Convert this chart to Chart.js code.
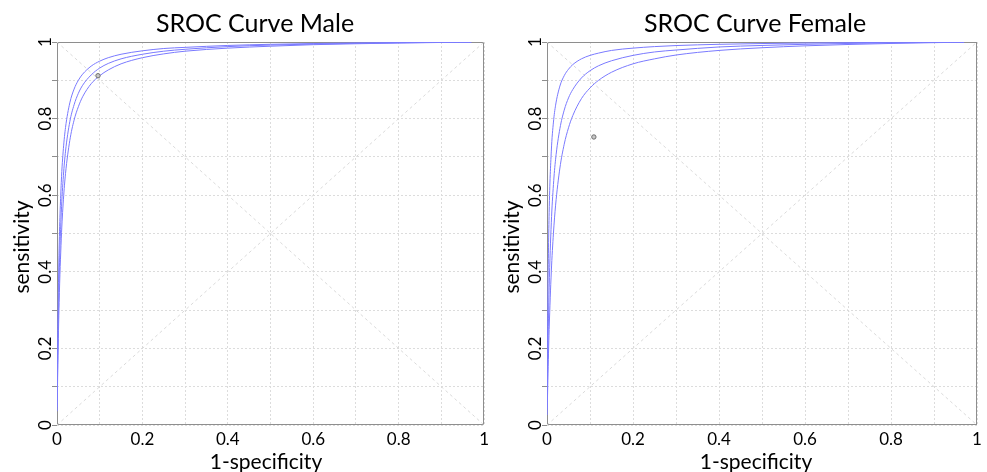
<!DOCTYPE html>
<html><head><meta charset="utf-8">
<script src="https://cdn.jsdelivr.net/npm/chart.js@4"></script>
<style>
body{margin:0;background:#fff;width:987px;height:472px;position:relative;overflow:hidden}
.box{position:absolute;top:0;height:472px}
#b1{left:0;width:493px}
#b2{left:490px;width:497px}
</style></head><body>
<div class="box" id="b1"><canvas id="c1"></canvas></div>
<div class="box" id="b2"><canvas id="c2"></canvas></div>
<script>
// ---- data ----
const fpr = [0.0004,0.001,0.002,0.005,0.01,0.015,0.02,0.03,0.04,0.05,0.06,0.08,0.1,0.12,0.15,0.2,0.25,0.3,0.4,0.5,0.6,0.7,0.8,0.9,0.97];

const maleUpper = [0.064,0.146,0.255,0.462,0.633,0.722,0.777,0.841,0.877,0.900,0.916,0.937,0.950,0.959,0.968,0.977,0.983,0.986,0.991,0.994,0.996,0.9975,0.9985,0.9993,0.9998];
const maleMid   = [0.047,0.109,0.197,0.382,0.554,0.651,0.715,0.792,0.836,0.866,0.887,0.914,0.932,0.944,0.956,0.968,0.976,0.981,0.988,0.992,0.9946,0.9965,0.998,0.9991,0.9997];
const maleLower = [0.036,0.086,0.158,0.320,0.486,0.588,0.657,0.743,0.796,0.831,0.857,0.891,0.912,0.927,0.943,0.959,0.969,0.976,0.984,0.989,0.993,0.9954,0.9973,0.9988,0.9997];

const femaleUpper = [0.090,0.199,0.332,0.555,0.715,0.791,0.835,0.885,0.912,0.929,0.941,0.956,0.965,0.971,0.978,0.984,0.988,0.9907,0.994,0.996,0.9973,0.9983,0.999,0.9996,0.9999];
const femaleMid   = [0.043,0.100,0.182,0.358,0.528,0.628,0.694,0.774,0.822,0.854,0.876,0.906,0.925,0.938,0.951,0.965,0.974,0.979,0.987,0.991,0.994,0.9962,0.9977,0.999,0.9997];
const femaleLower = [0.026,0.062,0.117,0.249,0.400,0.501,0.574,0.671,0.733,0.776,0.808,0.852,0.880,0.900,0.921,0.943,0.956,0.966,0.978,0.985,0.990,0.9935,0.9962,0.9983,0.9995];

const malePoint = [0.096, 0.912];     // [1-specificity, sensitivity]
const femalePoint = [0.109, 0.752];

const diagUp = [[0,0],[1,1]];
const diagDown = [[0,1],[1,0]];

const xTickValues = [0,0.2,0.4,0.6,0.8,1];
const xTickLabels = ['0','0.2','0.4','0.6','0.8','1'];
const yTickValues = [0,0.2,0.4,0.6,0.8,1];
const yTickLabels = ['0','0.2','0.4','0.6','0.8','1'];
const xAxisTitle = '1-specificity';
const yAxisTitle = 'sensitivity';

const FONT = 'Lato, "Open Sans", sans-serif';

function toXY(xs, ys){ return xs.map((x,i)=>({x:x, y:ys[i]})); }
function pairs(p){ return p.map(q=>({x:q[0], y:q[1]})); }

const decor = {
  id:'decor',
  beforeDatasetsDraw(chart){
    const {ctx, chartArea:a} = chart;
    ctx.save();
    ctx.strokeStyle = '#8e8e8e'; ctx.lineWidth = 1;
    ctx.strokeRect(Math.round(a.left)+0.5, Math.round(a.top)+0.5, Math.round(a.right-a.left)-1, Math.round(a.bottom-a.top)-1);
    ctx.restore();
  },
  afterDraw(chart, args, opts){
    const {ctx, chartArea:a, scales} = chart;
    const y = scales.y;
    ctx.save();
    ctx.fillStyle = '#000';
    ctx.font = '17px ' + FONT;
    ctx.textAlign = 'center'; ctx.textBaseline = 'middle';
    yTickValues.forEach((v,i)=>{
      const py = y.getPixelForValue(v);
      ctx.save();
      ctx.translate(a.left - 11, py);
      ctx.rotate(-Math.PI/2);
      ctx.fillText(yTickLabels[i], 0, 0);
      ctx.restore();
    });
    // chart title
    ctx.font = '25px ' + FONT;
    ctx.textBaseline = 'alphabetic';
    ctx.fillText(opts.text, opts.x, opts.y);
    // axis titles
    ctx.font = '21px ' + FONT;
    ctx.fillText(xAxisTitle, opts.xtX, opts.xtY);
    ctx.save();
    ctx.translate(opts.ytX, opts.ytY);
    ctx.rotate(-Math.PI/2);
    ctx.fillText(yAxisTitle, 0, 0);
    ctx.restore();
    ctx.restore();
  }
};

function makeChart(id, title, titleX, upper, mid, lower, pt, padRight){
  const curve = (d)=>({
    data: toXY(fpr, d), borderColor:'#7a7aff', borderWidth:1, pointRadius:0,
    cubicInterpolationMode:'monotone', fill:false, order:2
  });
  return new Chart(document.getElementById(id), {
    type:'line',
    data:{ datasets:[
      {data: pairs([pt]), showLine:false, pointRadius:2.2, pointBackgroundColor:'#c8c8c8', pointBorderColor:'#6e6e6e', pointBorderWidth:1, order:0},
      curve(upper), curve(mid), curve(lower),
      {data: pairs(diagUp), borderColor:'#dadada', borderDash:[3,3], borderWidth:1, pointRadius:0, order:10},
      {data: pairs(diagDown), borderColor:'#dadada', borderDash:[3,3], borderWidth:1, pointRadius:0, order:10}
    ]},
    options:{
      responsive:true, maintainAspectRatio:false, animation:false,
      layout:{ padding:{ top:42, left:0, right:padRight, bottom:0 } },
      plugins:{ legend:{display:false}, tooltip:{enabled:false}, title:{display:false},
        decor:{ text:title, x:titleX, y:32, xtX:266, xtY:469, ytX:29, ytY:247 } },
      scales:{
        x:{ type:'linear', min:0, max:1,
          ticks:{ stepSize:0.1, autoSkip:false, maxRotation:0, padding:4, color:'#000', font:{family:FONT, size:17},
            callback:(v)=>{ const k = xTickValues.findIndex(t=>Math.abs(t-v)<1e-6); return k>=0 ? xTickLabels[k] : ''; } },
          grid:{ color:'#dcdcdc', drawTicks:false },
          border:{ display:false, dash:[2,2] },
          title:{ display:false },
          afterFit:(s)=>{ s.height = 47; }
        },
        y:{ type:'linear', min:0, max:1,
          ticks:{ stepSize:0.1, color:'rgba(0,0,0,0)', font:{family:FONT, size:17} },
          grid:{ color:'#dcdcdc', drawTicks:true, tickLength:5, tickColor:'#8e8e8e', tickBorderDash:[] },
          border:{ display:false, dash:[2,2] },
          title:{ display:false },
          afterFit:(s)=>{ s.width = 57; }
        }
      }
    },
    plugins:[decor]
  });
}

makeChart('c1', 'SROC Curve Male', 255, maleUpper, maleMid, maleLower, malePoint, 6);
makeChart('c2', 'SROC Curve Female', 265, femaleUpper, femaleMid, femaleLower, femalePoint, 10);
</script>
</body></html>
